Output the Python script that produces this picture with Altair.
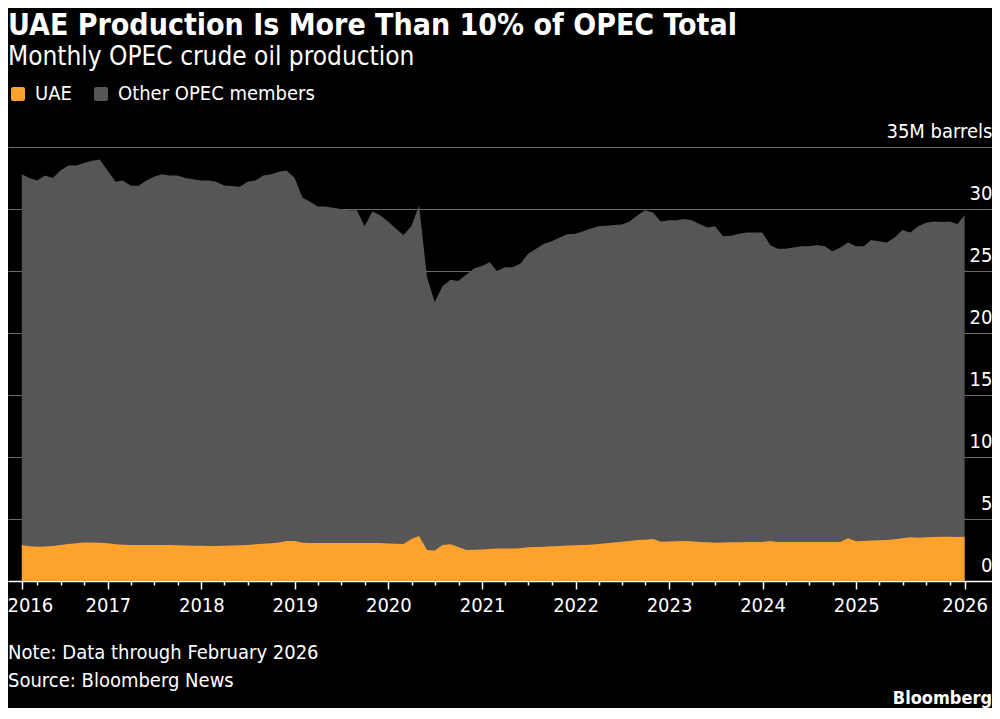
import altair as alt
import pandas as pd

# Monthly OPEC crude oil production, million barrels per day (Jan 2016 - Feb 2026)
start_year = 2016
start_month = 1
n_months = 122

total = [
    32.8, 32.5, 32.3, 32.7, 32.5, 33.1, 33.5, 33.5, 33.7, 33.9, 34.0, 33.1,   # 2016
    32.2, 32.3, 31.9, 31.85, 32.3, 32.6, 32.8, 32.7, 32.7, 32.5, 32.4, 32.3,  # 2017
    32.3, 32.2, 31.9, 31.85, 31.8, 32.2, 32.3, 32.7, 32.8, 33.0, 33.1, 32.5,  # 2018
    30.9, 30.6, 30.2, 30.2, 30.1, 30.0, 29.9, 29.9, 28.6, 29.8, 29.5, 29.0,   # 2019
    28.4, 27.9, 28.6, 30.3, 24.5, 22.5, 23.8, 24.3, 24.2, 24.7, 25.2, 25.4,   # 2020
    25.7, 25.0, 25.3, 25.3, 25.6, 26.4, 26.8, 27.2, 27.4, 27.7, 27.96, 28.0,  # 2021
    28.2, 28.4, 28.6, 28.65, 28.7, 28.75, 29.0, 29.5, 29.9, 29.7, 29.0, 29.1, # 2022
    29.1, 29.2, 29.1, 28.8, 28.5, 28.6, 27.8, 27.85, 28.0, 28.1, 28.1, 28.1,  # 2023
    27.1, 26.8, 26.8, 26.9, 27.0, 27.0, 27.1, 27.0, 26.6, 26.9, 27.3, 27.0,   # 2024
    27.0, 27.5, 27.4, 27.3, 27.7, 28.3, 28.1, 28.6, 28.9, 29.0, 28.95, 29.0,  # 2025
    28.8, 29.5,                                                               # 2026
]

uae = [
    2.9, 2.8, 2.77, 2.78, 2.82, 2.9, 2.98, 3.04, 3.1, 3.1, 3.09, 3.05,        # 2016
    2.96, 2.93, 2.9, 2.9, 2.9, 2.9, 2.9, 2.9, 2.88, 2.86, 2.85, 2.84,         # 2017
    2.82, 2.82, 2.84, 2.86, 2.88, 2.9, 2.96, 3.0, 3.04, 3.1, 3.22, 3.22,      # 2018
    3.09, 3.07, 3.06, 3.06, 3.06, 3.06, 3.06, 3.06, 3.06, 3.06, 3.06, 3.03,   # 2019
    3.0, 2.98, 3.39, 3.63, 2.5, 2.45, 2.9, 2.96, 2.75, 2.5, 2.52, 2.55,       # 2020
    2.58, 2.62, 2.63, 2.63, 2.64, 2.72, 2.74, 2.77, 2.8, 2.83, 2.86, 2.88,    # 2021
    2.9, 2.93, 2.98, 3.04, 3.1, 3.17, 3.22, 3.3, 3.33, 3.39, 3.17, 3.18,      # 2022
    3.2, 3.22, 3.2, 3.15, 3.12, 3.09, 3.1, 3.12, 3.13, 3.14, 3.14, 3.14,      # 2023
    3.22, 3.14, 3.14, 3.14, 3.14, 3.14, 3.14, 3.14, 3.14, 3.14, 3.44, 3.2,    # 2024
    3.22, 3.26, 3.29, 3.3, 3.36, 3.45, 3.52, 3.49, 3.52, 3.55, 3.57, 3.57,    # 2025
    3.55, 3.57,                                                               # 2026
]

series_names = ["UAE", "Other OPEC members"]
colors = ["#FDA22C", "#565656"]

title_text = "UAE Production Is More Than 10% of OPEC Total"
subtitle_text = "Monthly OPEC crude oil production"
note_text = "Note: Data through February 2026"
source_text = "Source: Bloomberg News"
brand_text = "Bloomberg"

# month-end dates for each monthly observation
dates = pd.date_range(f"{start_year}-{start_month:02d}-01", periods=n_months, freq="MS") + pd.offsets.MonthEnd(0)

df_total = pd.DataFrame({"date": dates, "value": total, "series": "Other OPEC members"})
df_uae = pd.DataFrame({"date": dates, "value": uae, "series": "UAE"})

FONT = "DejaVu Sans Condensed, DejaVu Sans"

# axis ticks: labelled ticks at the first point, each January and the last point; minor ticks quarterly
tick_values = [alt.DateTime(year=2016, month=1, date=31)]
for yr in range(2016, 2026):
    if yr > 2016:
        tick_values.append(alt.DateTime(year=yr, month=1, date=1))
    for m in (4, 7, 10):
        tick_values.append(alt.DateTime(year=yr, month=m, date=1))
tick_values.append(alt.DateTime(year=2026, month=1, date=1))
tick_values.append(alt.DateTime(year=2026, month=2, date=28))

major_test = "date(datum.value) != 1 || (month(datum.value) == 0 && year(datum.value) < 2026)"

x_scale = alt.Scale(
    domain=[alt.DateTime(year=2015, month=12, date=8), alt.DateTime(year=2026, month=6, date=15)],
    nice=False,
)
y_scale = alt.Scale(domain=[0, 35], nice=False)

x_axis = alt.Axis(
    values=tick_values,
    labelExpr=f"({major_test}) ? timeFormat(datum.value, '%Y') : ''",
    labelOverlap=False,
    labelFlush=False,
    labelColor="white",
    labelFont=FONT,
    labelFontSize=20,
    labelPadding=6,
    labelOffset={"condition": {"test": "date(datum.value) == 31", "value": 8}, "value": 0},
    domainColor="white",
    domainWidth=1.5,
    tickColor="white",
    tickWidth=1.5,
    tickSize={"condition": {"test": major_test, "value": 8}, "value": 4},
    grid=False,
    title=None,
)

y_axis = alt.Axis(
    orient="right",
    values=[0, 5, 10, 15, 20, 25, 30, 35],
    labelExpr="datum.value == 35 ? '35M barrels' : datum.label",
    labelAlign="right",
    labelBaseline="alphabetic",
    labelOffset=-10,
    labelPadding=0,
    labelColor="white",
    labelFont=FONT,
    labelFontSize=20,
    ticks=False,
    domain=False,
    grid=True,
    gridColor="#6b6b6b",
    gridWidth=1,
    title=None,
)

color = alt.Color(
    "series:N",
    scale=alt.Scale(domain=series_names, range=colors),
    legend=alt.Legend(
        orient="none",
        legendX=0,
        legendY=-63,
        direction="horizontal",
        title=None,
        labelColor="white",
        labelFont=FONT,
        labelFontSize=20,
        labelLimit=0,
        labelOffset=7,
        columnPadding=19,
        symbolType="M -0.7 -1 H 0.7 Q 1 -1 1 -0.7 V 0.7 Q 1 1 0.7 1 H -0.7 Q -1 1 -1 0.7 V -0.7 Q -1 -1 -0.7 -1 Z",
        symbolSize=196,
        symbolStrokeWidth=0,
        symbolOpacity=1,
    ),
)

base_enc = dict(
    x=alt.X("date:T", scale=x_scale, axis=x_axis),
    y=alt.Y("value:Q", scale=y_scale, axis=y_axis, stack=None),
    color=color,
)

total_area = alt.Chart(df_total).mark_area(interpolate="linear", opacity=1).encode(**base_enc)
uae_area = alt.Chart(df_uae).mark_area(interpolate="linear", opacity=1).encode(**base_enc)


def footer(text, y, x=0, align="left", weight="normal", size=20):
    return alt.Chart(pd.DataFrame({"t": [text]})).mark_text(
        align=align, baseline="alphabetic", font=FONT, fontSize=size,
        fontWeight=weight, color="white",
    ).encode(x=alt.value(x), y=alt.value(y), text="t:N")


chart = alt.layer(
    total_area,
    uae_area,
    footer(note_text, 512),
    footer(source_text, 540),
    footer(brand_text, 557, x=984, align="right", weight="bold", size=18),
).properties(
    width=984,
    height=434,
    autosize=alt.AutoSizeParams(type="none"),
    padding={"left": 0, "top": 139, "right": 0, "bottom": 127},
    background="black",
    title=alt.TitleParams(
        text=title_text,
        subtitle=subtitle_text,
        anchor="start",
        frame="group",
        color="white",
        subtitleColor="white",
        font=FONT,
        fontSize=30,
        fontWeight="bold",
        subtitleFont=FONT,
        subtitleFontSize=26,
        subtitleFontWeight="normal",
        subtitlePadding=3,
        offset=14,
    ),
).configure_view(stroke=None)

chart.save("out.html", embed_options={"renderer": "svg", "actions": False})
